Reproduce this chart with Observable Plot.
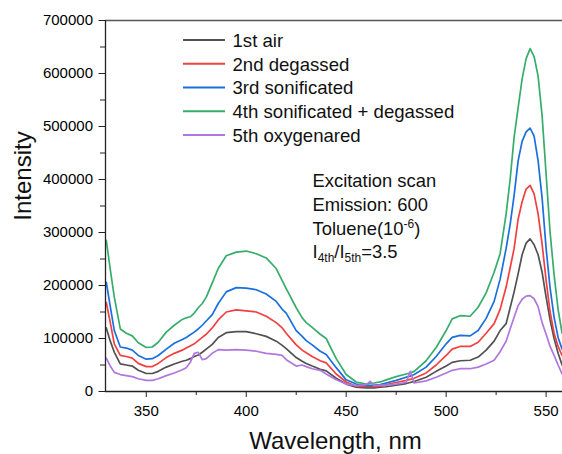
<!DOCTYPE html>
<html>
<head>
<meta charset="utf-8">
<script src="https://cdn.jsdelivr.net/npm/d3@7"></script>
<script src="https://cdn.jsdelivr.net/npm/@observablehq/plot@0.6"></script>
<style>
  html, body { margin: 0; padding: 0; background: #fff; }
  #chart svg { display: block; font-family: "Liberation Sans", Arial, sans-serif; }
</style>
</head>
<body>
<div id="chart"></div>
<script>
// Wavelength grid (nm)
const wavelengths = [330,332,334,337,340,343,346,350,353,356,360,364,368,370,372,374,376,378,380,383,386,390,395,400,405,410,415,418,420,425,428,430,433,437,440,445,450,455,460,462,464,467,470,475,480,482,484,490,495,500,503,507,512,516,520,524,527,530,532,534,536,538,540,542,544,546,548,550,552,554,556,558];

// Intensities in thousands
const air1st = [120,95,74,52,50, 48,40,34,34,38, 46,52,57,59,62, 66,69,74,80,89, 102,111,113,113,109, 104,95,87,81,64, 57,53,48,42,39, 25,14,8,7,7, 7,8,9,12,15, 17,19,27,38,48, 55,58,59,65,78, 95,115,128,158,188, 222,258,280,288,277, 258,225,178,135,100, 72,50];
const degassed2nd = [168,130,90,68,66, 63,53,47,47,53, 64,72,78,82,86, 90,96,102,108,120, 135,150,154,152,150, 142,130,120,110,88, 78,73,66,58,54, 33,18,10,9,9, 9,10,13,17,21, 23,25,35,50,68, 80,85,85,93,110, 128,155,197,233,270, 325,358,382,389,373, 335,278,210,150,110, 85,68];
const sonificated3rd = [206,160,115,84,82, 78,68,61,62,68, 80,91,98,102,107, 112,118,125,133,145, 166,188,196,195,192, 184,170,155,148,115, 104,96,88,76,70, 45,22,14,11,11, 12,13,16,21,27, 29,32,46,66,90, 102,106,105,115,138, 170,212,270,315,370, 435,472,490,497,482, 435,365,270,195,140, 102,80];
const sonDegassed4th = [285,230,178,118,110, 105,92,83,84,93, 112,125,136,139,141, 148,158,166,178,205, 232,256,263,265,260, 252,232,209,194,158, 139,130,121,108,100, 62,32,18,14,15, 16,18,22,28,33, 35,38,58,83,115, 137,143,142,159,186, 225,260,335,400,480, 535,590,628,647,632, 595,520,410,300,220, 155,110];
const oxygenated5th = [63,48,36,32,30, 28,24,21,21,24, 30,35,41,45,55, 72,74,60,62,72, 79,78,79,78,76, 72,70,68,60,48, 50,47,43,40,33, 22,14,11,13,19, 11,12,12,14,17, 38,16,20,27,35, 40,43,43,46,52, 59,75,95,118,140, 162,174,180,181,175, 160,130,108,85,68, 50,33];

const seriesNames = ["1st air","2nd degassed","3rd sonificated","4th sonificated + degassed","5th oxygenared"];
const seriesColors = ["#515151","#F14040","#1A6FDF","#37AD6B","#B177DE"];
const seriesValues = [air1st, degassed2nd, sonificated3rd, sonDegassed4th, oxygenated5th];

const yTicks = [0,100000,200000,300000,400000,500000,600000,700000];
const yMinor = [50000,150000,250000,350000,450000,550000,650000];
const xTicks = [350,400,450,500,550];
const xMinor = [375,425,475,525];
const annotationLines = ["Excitation scan","Emission: 600"];

const rows = [];
seriesValues.forEach((vals, si) => {
  vals.forEach((v, i) => rows.push({series: seriesNames[si], wl: wavelengths[i], v: v * 1000}));
});

const X0 = 329.6, X1 = 558.2;
const font = "Liberation Sans, Arial, sans-serif";

const chart = Plot.plot({
  width: 562,
  height: 454,
  marginLeft: 105,
  marginRight: 0,
  marginTop: 20,
  marginBottom: 63,
  style: {fontFamily: font, background: "#fff", color: "#000"},
  x: {domain: [X0, X1]},
  y: {domain: [0, 700000]},
  color: {domain: seriesNames, range: seriesColors},
  marks: [
    Plot.line(rows, {x: "wl", y: "v", z: "series", stroke: "series", strokeWidth: 1.7, clip: true}),
    Plot.ruleY([0], {stroke: "#222", strokeWidth: 1.3}),
    Plot.ruleY([700000], {stroke: "#555", strokeWidth: 1.3}),
    Plot.ruleX([X0], {stroke: "#222", strokeWidth: 1.3}),
    Plot.axisX({ticks: xTicks, tickSize: 6, tickPadding: 8, fontSize: 15, label: null, tickFormat: d => String(d), stroke: "#222", fill: "#000"}),
    Plot.axisX({ticks: xMinor, tickSize: 4, label: null, tickFormat: () => "", stroke: "#222"}),
    Plot.axisY({ticks: yTicks, tickSize: 6.5, tickPadding: 6, fontSize: 15, label: null, tickFormat: d3.format("d"), stroke: "#222", fill: "#000"}),
    Plot.axisY({ticks: yMinor, tickSize: 5, label: null, tickFormat: () => "", stroke: "#222"})
  ]
});

document.getElementById("chart").appendChild(chart);

const svg = d3.select(chart);

// Axis titles
svg.append("text")
  .attr("x", 335.5).attr("y", 449)
  .attr("text-anchor", "middle")
  .style("font-size", "24px").style("font-family", font).style("fill", "#111")
  .text("Wavelength, nm");

svg.append("text")
  .attr("transform", "translate(31,176) rotate(-90)")
  .attr("text-anchor", "middle")
  .style("font-size", "24px").style("font-family", font).style("fill", "#111")
  .text("Intensity");

// Legend
const lg = svg.append("g").attr("text-anchor", "start");
seriesNames.forEach((name, i) => {
  const y = 40 + i * 23.75;
  lg.append("line")
    .attr("x1", 183).attr("x2", 225).attr("y1", y).attr("y2", y)
    .attr("stroke", seriesColors[i]).attr("stroke-width", 1.8);
  lg.append("text")
    .attr("x", 232.5).attr("y", y + 6.8)
    .attr("text-anchor", "start")
    .style("font-size", "18.6px").style("font-family", font).style("fill", "#111")
    .text(name);
});

// Annotation
const ann = svg.append("g").attr("text-anchor", "start")
  .style("font-size", "18.4px").style("font-family", font).style("fill", "#111");
ann.append("text").attr("x", 312.5).attr("y", 186.7).attr("text-anchor", "start").text(annotationLines[0]);
ann.append("text").attr("x", 312.5).attr("y", 210.7).attr("text-anchor", "start").text(annotationLines[1]);
const t3 = ann.append("text").attr("x", 312.5).attr("y", 235).attr("text-anchor", "start");
t3.append("tspan").text("Toluene(10");
t3.append("tspan").attr("dy", -7).style("font-size", "12px").text("-6");
t3.append("tspan").attr("dy", 7).text(")");
const t4 = ann.append("text").attr("x", 312.5).attr("y", 258.3).attr("text-anchor", "start");
t4.append("tspan").text("I");
t4.append("tspan").attr("dy", 4).style("font-size", "12px").text("4th");
t4.append("tspan").attr("dy", -4).text("/I");
t4.append("tspan").attr("dy", 4).style("font-size", "12px").text("5th");
t4.append("tspan").attr("dy", -4).text("=3.5");
</script>
</body>
</html>
